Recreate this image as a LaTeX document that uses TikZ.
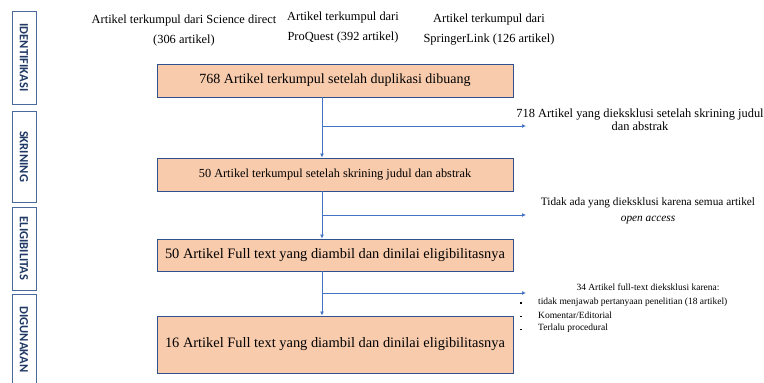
\documentclass[tikz,border=0pt]{standalone}
\usepackage{fontspec}
\setmainfont{Liberation Serif}
\newfontfamily\sidefont{Carlito}
\usetikzlibrary{arrows.meta}
\definecolor{peach}{HTML}{F8CBAD}
\definecolor{boxline}{HTML}{2F528F}
\definecolor{arrowblue}{HTML}{4472C4}
\definecolor{sideblue}{HTML}{1F3864}
\definecolor{sideline}{HTML}{4A6A9C}
\begin{document}
\begin{tikzpicture}[x=1pt,y=-1pt,
  mainbox/.style={draw=boxline, fill=peach, line width=0.9pt, inner sep=0pt},
  sidebox/.style={draw=sideline, line width=0.9pt, inner sep=0pt},
  sidetext/.style={rotate=-90, font=\sidefont\bfseries\fontsize{12.5}{14}\selectfont, text=sideblue},
  toptext/.style={font=\fontsize{12.4}{20}\selectfont, align=center, inner sep=0pt},
  note/.style={font=\fontsize{12.4}{13}\selectfont, align=center, inner sep=0pt},
  small/.style={font=\fontsize{9.5}{11}\selectfont, inner sep=0pt},
  flow/.style={draw=arrowblue, line width=0.8pt, -{Latex[length=4pt,width=4pt]}}
]
\useasboundingbox (0,0) rectangle (764,383);
% side labels
\node[sidebox, minimum width=24pt, minimum height=93pt] (s1) at (24,57.5) {};
\node[sidetext] at (s1.center) {IDENTIFIKASI};
\node[sidebox, minimum width=24pt, minimum height=91pt] (s2) at (24,156.5) {};
\node[sidetext] at (s2.center) {SKRINING};
\node[sidebox, minimum width=24pt, minimum height=83pt] (s3) at (24,248.5) {};
\node[sidetext] at (s3.center) {ELIGIBILITAS};
\node[sidebox, minimum width=24pt, minimum height=96pt] (s4) at (24,342) {};
\node[sidetext] at (24,339.5) {DIGUNAKAN};
% top texts
\node[toptext] (t1) at (184,30.5) {Artikel terkumpul dari Science direct\\(306 artikel)};
\node[toptext] (t2) at (343,27.5) {Artikel terkumpul dari\\ProQuest (392 artikel)};
\node[toptext] (t3) at (489,29.5) {Artikel terkumpul dari\\SpringerLink (126 artikel)};
% main boxes
\node[mainbox, minimum width=356pt, minimum height=33pt, font=\fontsize{14}{16}\selectfont] (b1) at (335,80.5) {768 Artikel terkumpul setelah duplikasi dibuang};
\node[mainbox, minimum width=356pt, minimum height=33pt, font=\fontsize{12.3}{14}\selectfont] (b2) at (335,174.5) {50 Artikel terkumpul setelah skrining judul dan abstrak};
\node[mainbox, minimum width=356pt, minimum height=32pt, font=\fontsize{14.4}{16}\selectfont] (b3) at (335,255) {50 Artikel Full text yang diambil dan dinilai eligibilitasnya};
\node[mainbox, minimum width=356pt, minimum height=57pt, font=\fontsize{14.4}{16}\selectfont] (b4) at (335,344.5) {16 Artikel Full text yang diambil dan dinilai eligibilitasnya};
% branch points
\coordinate (j1) at (322,126);
\coordinate (j2) at (322,215);
\coordinate (j3) at (322,293);
\coordinate (e1) at (526,126);
\coordinate (e2) at (526,215);
\coordinate (e3) at (526,293);
% connectors
\draw[flow] (b1.south -| j1) -- (b2.north -| j1);
\draw[flow] (b2.south -| j2) -- (b3.north -| j2);
\draw[flow] (b3.south -| j3) -- (b4.north -| j3);
\draw[flow] (j1) -- (e1);
\draw[flow] (j2) -- (e2);
\draw[flow] (j3) -- (e3);
% notes
\node[note] (n1) at (640,120) {718 Artikel yang dieksklusi setelah skrining judul\\dan abstrak};
\node[font=\fontsize{11.3}{16}\selectfont, align=center, inner sep=0pt] (n2) at (648,211) {Tidak ada yang dieksklusi karena semua artikel\\\textit{open access}};
\node[small] (n3) at (648,287) {34 Artikel full-text dieksklusi karena:};
\node[small, anchor=west] (i1) at (538,302) {tidak menjawab pertanyaan penelitian (18 artikel)};
\node[small, anchor=west] (i2) at (538,315.5) {Komentar/Editorial};
\node[small, anchor=west] (i3) at (538,328.5) {Terlalu procedural};
\foreach \yy in {302,315.5,328.5} \fill (520,\yy) rectangle +(1.8,1.8);
\end{tikzpicture}
\end{document}
